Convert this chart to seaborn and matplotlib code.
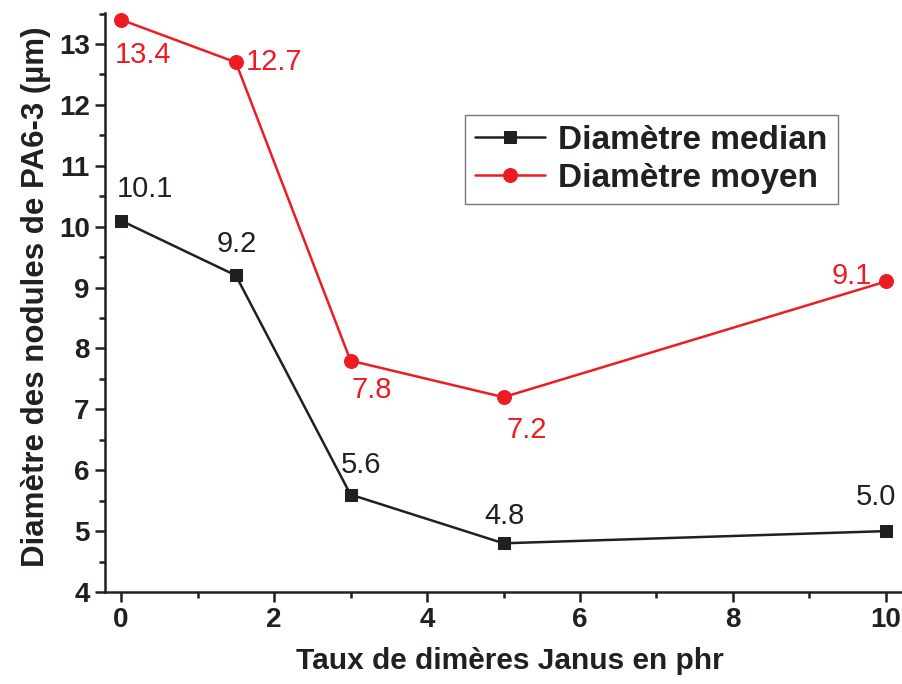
import matplotlib
matplotlib.use("Agg")
import matplotlib.pyplot as plt
from matplotlib.ticker import MultipleLocator, AutoMinorLocator
import seaborn as sns
import pandas as pd

# Janus dimer loading (phr) and PA6-3 nodule diameters (µm)
taux = [0, 1.5, 3, 5, 10]
diam_median = [10.1, 9.2, 5.6, 4.8, 5.0]
diam_moyen = [13.4, 12.7, 7.8, 7.2, 9.1]
labels_median = ["10.1", "9.2", "5.6", "4.8", "5.0"]
labels_moyen = ["13.4", "12.7", "7.8", "7.2", "9.1"]

BLACK = "#231F20"
RED = "#ED1C24"

sns.set_theme(style="ticks")
plt.rcParams["font.family"] = ["Liberation Sans", "DejaVu Sans"]

fig = plt.figure(figsize=(9.02, 6.84), dpi=100)
ax = fig.add_axes([105 / 902, 1 - 592 / 684, 1 - 105 / 902, (592 - 13) / 684])

df = pd.DataFrame({"x": taux, "median": diam_median, "moyen": diam_moyen})

sns.lineplot(data=df, x="x", y="median", ax=ax, color=BLACK, marker="s",
             markersize=9, markeredgecolor=BLACK, linewidth=1.8,
             label="Diamètre median")
sns.lineplot(data=df, x="x", y="moyen", ax=ax, color=RED, marker="o",
             markersize=10, markeredgecolor=RED, linewidth=1.8,
             label="Diamètre moyen")

px = 72 / 100  # pixel -> point
off_median = [(24, 32), (1, 31), (11, 30), (1, 27), (-10, 34)]
off_moyen = [(22, -35), (38, 0), (21, -29), (23, -33), (-34, 5)]
for x, y, t, (dx, dy) in zip(taux, diam_median, labels_median, off_median):
    ax.annotate(t, (x, y), xytext=(dx * px, dy * px), textcoords="offset points",
                ha="center", va="center", fontsize=21, color=BLACK)
for x, y, t, (dx, dy) in zip(taux, diam_moyen, labels_moyen, off_moyen):
    ax.annotate(t, (x, y), xytext=(dx * px, dy * px), textcoords="offset points",
                ha="center", va="center", fontsize=21, color=RED)

ax.set_xlim(-0.21, 10.21)
ax.set_ylim(4.0, 13.51)
ax.xaxis.set_major_locator(MultipleLocator(2))
ax.xaxis.set_minor_locator(AutoMinorLocator(2))
ax.yaxis.set_major_locator(MultipleLocator(1))
ax.yaxis.set_minor_locator(AutoMinorLocator(2))

for side in ("top", "right"):
    ax.spines[side].set_visible(False)
for side in ("left", "bottom"):
    ax.spines[side].set_color(BLACK)
    ax.spines[side].set_linewidth(1.8)

ax.tick_params(which="major", direction="out", length=7, width=1.8,
               color=BLACK, labelsize=20, labelcolor=BLACK, pad=4)
ax.tick_params(which="minor", direction="out", length=4.5, width=1.8, color=BLACK)
for lab in ax.get_xticklabels() + ax.get_yticklabels():
    lab.set_fontweight("bold")

ax.set_xlabel("Taux de dimères Janus en phr", fontsize=21.5, fontweight="bold",
              color=BLACK, labelpad=10)
ax.set_ylabel("Diamètre des nodules de PA6-3 (µm)", fontsize=22.5, fontweight="bold",
              color=BLACK, labelpad=6)
ax.xaxis.label.set_x(0.508)
ax.yaxis.label.set_y(0.51)

leg = ax.legend(loc="upper left", bbox_to_anchor=(465 / 902, 1 - 115 / 684),
                bbox_transform=fig.transFigure, borderaxespad=0,
                frameon=True, fancybox=False,
                prop={"weight": "bold", "size": 24}, handlelength=2.1,
                handletextpad=0.4, borderpad=0.3, labelspacing=0.2)
leg.get_frame().set_edgecolor("#555555")
leg.get_frame().set_linewidth(1.0)
for t in leg.get_texts():
    t.set_color(BLACK)

fig.savefig("out.png", dpi=100)
